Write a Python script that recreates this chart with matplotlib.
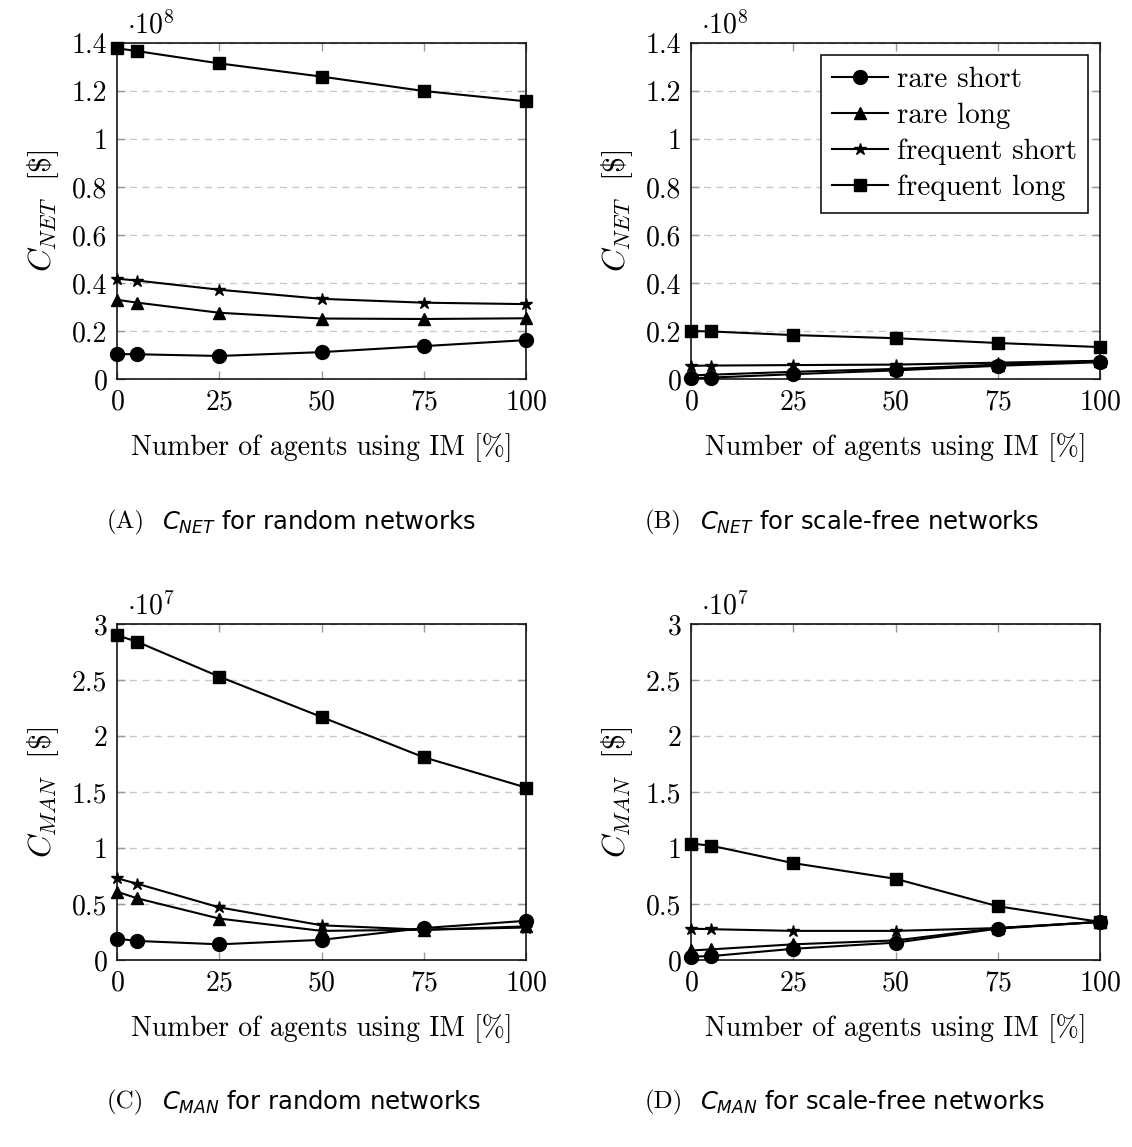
import numpy as np
import matplotlib
matplotlib.use("Agg")
import matplotlib.pyplot as plt
from matplotlib.ticker import FixedLocator, FuncFormatter

plt.rcParams["font.family"] = "serif"
plt.rcParams["font.serif"] = ["cmr10", "DejaVu Serif"]
plt.rcParams["mathtext.fontset"] = "cm"
plt.rcParams["axes.formatter.use_mathtext"] = True

# share of agents using IM [%]
im_share = [0, 5, 25, 50, 75, 100]

series_names = ["rare short", "rare long", "frequent short", "frequent long"]

# C_NET, random networks (x 1e8 $)
net_random_rare_short = [0.104, 0.103, 0.096, 0.112, 0.137, 0.162]
net_random_rare_long = [0.330, 0.318, 0.276, 0.252, 0.250, 0.253]
net_random_freq_short = [0.418, 0.410, 0.372, 0.334, 0.318, 0.312]
net_random_freq_long = [1.378, 1.366, 1.315, 1.260, 1.200, 1.157]

# C_NET, scale-free networks (x 1e8 $)
net_sf_rare_short = [0.003, 0.006, 0.020, 0.036, 0.055, 0.070]
net_sf_rare_long = [0.015, 0.018, 0.030, 0.042, 0.060, 0.075]
net_sf_freq_short = [0.055, 0.056, 0.058, 0.060, 0.068, 0.076]
net_sf_freq_long = [0.200, 0.198, 0.183, 0.170, 0.150, 0.133]

# C_MAN, random networks (x 1e7 $)
man_random_rare_short = [0.19, 0.17, 0.14, 0.18, 0.285, 0.35]
man_random_rare_long = [0.61, 0.55, 0.37, 0.26, 0.27, 0.30]
man_random_freq_short = [0.73, 0.68, 0.47, 0.31, 0.27, 0.29]
man_random_freq_long = [2.90, 2.84, 2.53, 2.17, 1.81, 1.54]

# C_MAN, scale-free networks (x 1e7 $)
man_sf_rare_short = [0.03, 0.035, 0.10, 0.155, 0.28, 0.34]
man_sf_rare_long = [0.085, 0.095, 0.14, 0.175, 0.285, 0.34]
man_sf_freq_short = [0.28, 0.275, 0.26, 0.26, 0.285, 0.34]
man_sf_freq_long = [1.04, 1.02, 0.865, 0.725, 0.48, 0.34]

net_ticks = [0, 0.2, 0.4, 0.6, 0.8, 1.0, 1.2, 1.4]
man_ticks = [0, 0.5, 1.0, 1.5, 2.0, 2.5, 3.0]
x_ticks = [0, 25, 50, 75, 100]

markers = {"rare short": ("o", 10), "rare long": ("^", 9),
           "frequent short": ("*", 9), "frequent long": ("s", 9)}

FS = 20


def fmt_tick(v, pos):
    s = ("%.1f" % v).rstrip("0").rstrip(".")
    return s


def draw_panel(ax, data, yticks, ymax, exponent, ylab):
    for name, vals in zip(series_names, data):
        m, ms = markers[name]
        ax.plot(im_share, vals, color="black", lw=1.5, marker=m, ms=ms,
                label=name, clip_on=False, zorder=3)
    ax.set_xlim(0, 100)
    ax.set_ylim(0, ymax)
    ax.xaxis.set_major_locator(FixedLocator(x_ticks))
    ax.yaxis.set_major_locator(FixedLocator(yticks))
    ax.yaxis.set_major_formatter(FuncFormatter(fmt_tick))
    ax.tick_params(direction="in", top=True, right=True, length=6,
                   width=1, color="#999999", labelsize=FS, pad=7)
    ax.grid(axis="y", ls=(0, (5, 4)), color="#c8c8c8", lw=1)
    for sp in ax.spines.values():
        sp.set_linewidth(1.1)
    ax.set_xlabel("Number of agents using IM [%]", fontsize=FS, labelpad=13)
    ax.set_ylabel(ylab, fontsize=23, labelpad=8)
    ax.text(0.025, 1.01, r"$\cdot10^{%d}$" % exponent, transform=ax.transAxes,
            fontsize=FS, va="bottom", ha="left")


fig = plt.figure(figsize=(11.32, 11.47), dpi=100)
W, H = 1132, 1147


def add_axes(x0, y0, x1, y1):
    return fig.add_axes([x0 / W, 1 - y1 / H, (x1 - x0) / W, (y1 - y0) / H])


ax_a = add_axes(117, 43, 526, 379)
ax_b = add_axes(691, 43, 1100, 379)
ax_c = add_axes(117, 624, 526, 960)
ax_d = add_axes(691, 624, 1100, 960)

net_label = r"$C_{NET}\ \ [\$]$"
man_label = r"$C_{MAN}\ \ [\$]$"

draw_panel(ax_a, [net_random_rare_short, net_random_rare_long,
                  net_random_freq_short, net_random_freq_long],
           net_ticks, 1.4, 8, net_label)
draw_panel(ax_b, [net_sf_rare_short, net_sf_rare_long,
                  net_sf_freq_short, net_sf_freq_long],
           net_ticks, 1.4, 8, net_label)
draw_panel(ax_c, [man_random_rare_short, man_random_rare_long,
                  man_random_freq_short, man_random_freq_long],
           man_ticks, 3.0, 7, man_label)
draw_panel(ax_d, [man_sf_rare_short, man_sf_rare_long,
                  man_sf_freq_short, man_sf_freq_long],
           man_ticks, 3.0, 7, man_label)

leg = ax_b.legend(loc="upper right", fontsize=21, frameon=True, fancybox=False,
                  edgecolor="black", handlelength=1.9, handletextpad=0.3,
                  borderpad=0.4, labelspacing=0.33, borderaxespad=0.4)
leg.get_frame().set_linewidth(1.1)
leg.get_frame().set_alpha(1)

# sub-figure captions
captions = [
    (107, 522, "A", "NET", "random networks"),
    (645, 522, "B", "NET", "scale-free networks"),
    (107, 1102, "C", "MAN", "random networks"),
    (645, 1102, "D", "MAN", "scale-free networks"),
]
for cx, cy, letter, sub, text in captions:
    fig.text(cx / W, 1 - cy / H, "(%s)" % letter, fontsize=18,
             va="center", ha="left", family="serif")
    fig.text(cx / W + 0.049, 1 - cy / H, r"$C_{%s}$ for %s" % (sub, text),
             fontsize=17.5, va="center", ha="left", family="DejaVu Sans",
             math_fontfamily="dejavusans")

fig.savefig("out.png", dpi=100)
